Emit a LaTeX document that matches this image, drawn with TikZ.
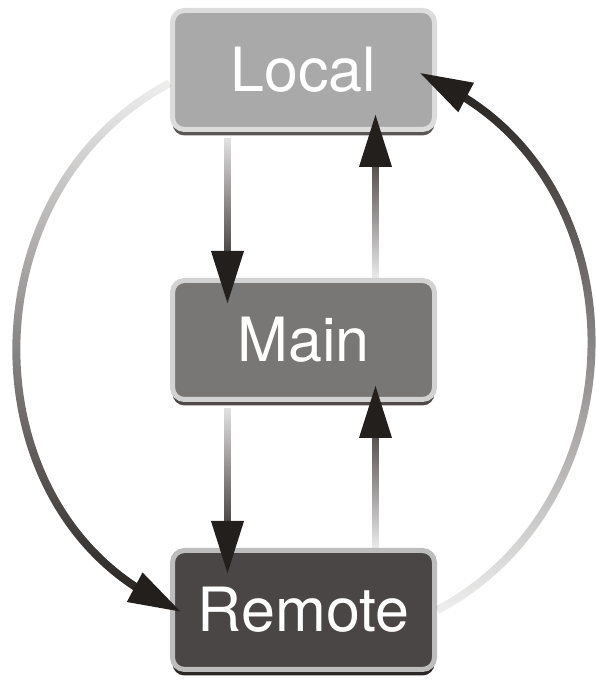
\documentclass[tikz,border=0pt]{standalone}
\usepackage{fontspec}
\setmainfont{TeX Gyre Heros}
\usetikzlibrary{arrows.meta,positioning,shadows,fadings}
\definecolor{SyncInk}{HTML}{231F1D}
\definecolor{LocalFill}{HTML}{A9A9A9}
\definecolor{LocalRim}{HTML}{DCDCDC}
\definecolor{LocalShade}{HTML}{5A5655}
\definecolor{MainFill}{HTML}{787776}
\definecolor{MainRim}{HTML}{D2D2D2}
\definecolor{MainShade}{HTML}{4F4B4A}
\definecolor{RemoteFill}{HTML}{4A4645}
\definecolor{RemoteRim}{HTML}{BDBDBD}
\definecolor{RemoteShade}{HTML}{2B2727}
% Gradient only over the path itself, flat beyond it.
\begin{tikzfadingfrompicture}[name=fadedown]
  \fill[transparent!0] (-500bp,-50bp) rectangle (500bp,-25bp);
  \shade[top color=transparent!93,bottom color=transparent!0]
        (-500bp,-25bp) rectangle (500bp,25bp);
  \fill[transparent!93] (-500bp,25bp) rectangle (500bp,50bp);
\end{tikzfadingfrompicture}
\begin{tikzfadingfrompicture}[name=fadeup]
  \fill[transparent!93] (-500bp,-50bp) rectangle (500bp,-25bp);
  \shade[top color=transparent!0,bottom color=transparent!93]
        (-500bp,-25bp) rectangle (500bp,25bp);
  \fill[transparent!0] (-500bp,25bp) rectangle (500bp,50bp);
\end{tikzfadingfrompicture}

\begin{document}
\begin{tikzpicture}[x=1pt,y=1pt,
    repo/.style={rounded corners=12pt,line width=5pt,minimum width=262pt,
      minimum height=119pt,text=white,font=\fontsize{61}{63}\selectfont},
    shaft/.style={SyncInk,line width=7pt,path fading=#1},
    tiponly/.style={SyncInk,line width=7pt,dash pattern=on 0pt off 3000pt,
      -{Triangle[length=53pt,width=31pt]}},
    round/.style={line width=8pt,bend right=62,looseness=1.12}]
  \useasboundingbox (0,0) rectangle (596,680);

  % Three repositories.
  \node[repo,fill=LocalFill,draw=LocalRim,
        drop shadow={shadow xshift=0pt,shadow yshift=-6pt,fill=LocalShade,opacity=1}]
        (local) at (303.5,610) {Local};
  \node[repo,fill=MainFill,draw=MainRim,below=146pt of local,
        drop shadow={shadow xshift=0pt,shadow yshift=-6pt,fill=MainShade,opacity=1}]
        (main) {Main};
  \node[repo,fill=RemoteFill,draw=RemoteRim,below=146pt of main,
        drop shadow={shadow xshift=0pt,shadow yshift=-6pt,fill=RemoteShade,opacity=1}]
        (remote) {Remote};

  % Straight pushes and pulls: faded shaft, then a solid head.
  \draw[shaft=fadedown,shorten <=6pt,shorten >=4pt]
        ([xshift=-76pt]local.south) -- ([xshift=-76pt]main.north);
  \draw[tiponly,shorten >=-26pt]
        ([xshift=-76pt]local.south) -- ([xshift=-76pt]main.north);
  \draw[shaft=fadeup,shorten >=12pt]
        ([xshift=72pt]main.north) -- ([xshift=72pt]local.south);
  \draw[tiponly,shorten >=-18pt]
        ([xshift=72pt]main.north) -- ([xshift=72pt]local.south);
  \draw[shaft=fadedown,shorten <=6pt,shorten >=4pt]
        ([xshift=-76pt]main.south) -- ([xshift=-76pt]remote.north);
  \draw[tiponly,shorten >=-26pt]
        ([xshift=-76pt]main.south) -- ([xshift=-76pt]remote.north);
  \draw[shaft=fadeup,shorten >=13pt]
        ([xshift=72pt]remote.north) -- ([xshift=72pt]main.south);
  \draw[tiponly,shorten >=-17pt]
        ([xshift=72pt]remote.north) -- ([xshift=72pt]main.south);

  % Round trips.
  \draw[shaft=fadedown,round,shorten >=17pt]
        ([yshift=-13pt]local.west) to ([yshift=4pt]remote.west);
  \draw[tiponly,round,shorten >=-13pt]
        ([yshift=-13pt]local.west) to ([yshift=4pt]remote.west);
  \draw[shaft=fadeup,round,shorten >=14pt]
        (remote.east) to ([yshift=-12pt]local.east);
  \draw[tiponly,round,shorten >=-20pt]
        (remote.east) to ([yshift=-12pt]local.east);
\end{tikzpicture}
\end{document}
